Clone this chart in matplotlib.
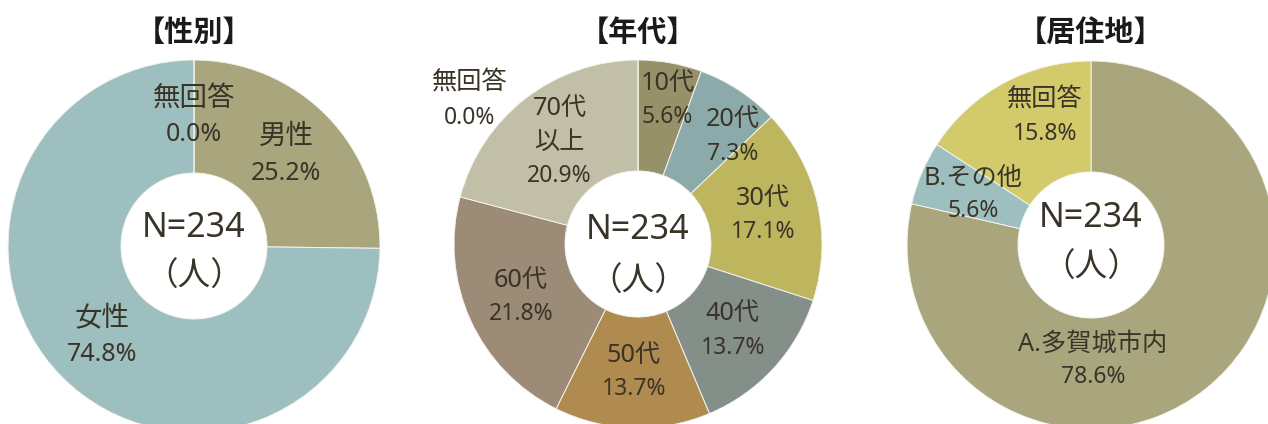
import numpy as np
import matplotlib.pyplot as plt

plt.rcParams["font.family"] = ["Noto Sans", "Noto Sans CJK JP", "DejaVu Sans"]

n_total = 234

titles = ["【性別】", "【年代】", "【居住地】"]

sex_labels = ["男性", "女性", "無回答"]
sex_pct = [25.2, 74.8, 0.0]

age_labels = ["10代", "20代", "30代", "40代", "50代", "60代", "70代\n以上", "無回答"]
age_pct = [5.6, 7.3, 17.1, 13.7, 13.7, 21.8, 20.9, 0.0]

area_labels = ["A.多賀城市内", "B.その他", "無回答"]
area_pct = [78.6, 5.6, 15.8]

text_color = "#3a3428"

# figure is laid out in pixel units (1268 x 424), y measured upward
W, H = 1268, 424
fig = plt.figure(figsize=(W / 100, H / 100), dpi=100)
ax = fig.add_axes([0, 0, 1, 1])

charts = [
    dict(labels=sex_labels, vals=sex_pct, cx=194, cy=246, r=186, hole=73,
         colors=["#a9a67d", "#9ebfbf", "#c2bfa8"], fs=18, pitch=36,
         nshift=(-18, 31), offsets={}),
    dict(labels=age_labels, vals=age_pct, cx=638, cy=244, r=184, hole=73,
         colors=["#979169", "#8caaaa", "#beb55f", "#848f8a", "#b08b4f",
                 "#9c8b76", "#c2bfa8", "#d3ca6b"], fs=16.5, pitch=34,
         nshift=(-14, 38), offsets={0: (7, 17), 1: (24, 0), 7: (-168, 15)}),
    dict(labels=area_labels, vals=area_pct, cx=1091, cy=245, r=184, hole=73,
         colors=["#a9a67d", "#9ebfbf", "#d3ca6b"], fs=16.5, pitch=33,
         nshift=(-27, 23), offsets={0: (-78, -15), 2: (15, 15)}),
]

for title, c in zip(titles, charts):
    cx, cy = c["cx"], H - c["cy"]
    wedges, _ = ax.pie(c["vals"], colors=c["colors"], startangle=90,
                       counterclock=False, center=(cx, cy), radius=c["r"],
                       wedgeprops=dict(width=c["r"] - c["hole"],
                                       edgecolor="#f4f4ee", linewidth=0.7))
    rmid = (c["r"] + c["hole"]) / 2
    for i, (w, lab, v) in enumerate(zip(wedges, c["labels"], c["vals"])):
        ang = np.deg2rad((w.theta1 + w.theta2) / 2)
        dx, dy = c["offsets"].get(i, (0, 0))
        x = cx + rmid * np.cos(ang) + dx
        y = cy + rmid * np.sin(ang) + dy
        lines = lab.split("\n") + [f"{v:.1f}%"]
        n = len(lines)
        for k, line in enumerate(lines):
            # category names render a bit larger than the percentages
            fs = c["fs"] * (1.1 if k < n - 1 else 1.0)
            ax.text(x, y + ((n - 1) / 2 - k) * c["pitch"], line,
                    ha="center", va="center", fontsize=fs, color=text_color)
    ax.text(cx, cy - c["nshift"][0], f"N={n_total}", ha="center",
            va="center", fontsize=24.5, color=text_color)
    ax.text(cx, cy - c["nshift"][1], "（人）", ha="center", va="center",
            fontsize=23.5, color=text_color)
    ax.text(cx, H - 33, title, ha="center", va="center", fontsize=21,
            fontweight="bold", color="#1a1a1a")

ax.set_xlim(0, W)
ax.set_ylim(0, H)
ax.set_aspect("equal")
ax.axis("off")

plt.savefig("out.png", dpi=100, facecolor="white")
